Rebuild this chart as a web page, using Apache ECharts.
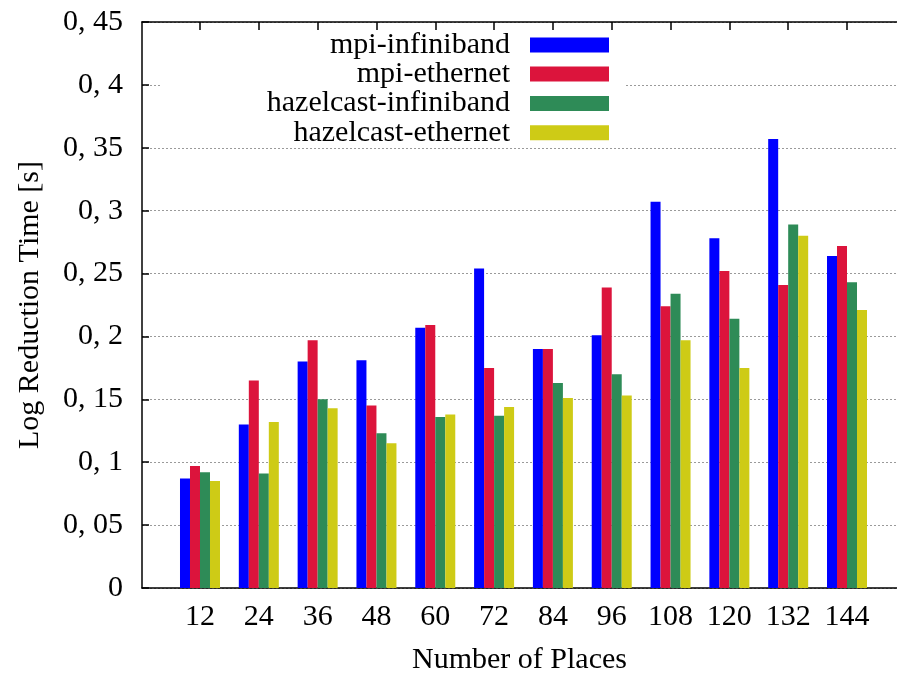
<!DOCTYPE html>
<html>
<head>
<meta charset="utf-8">
<script src="https://cdn.jsdelivr.net/npm/echarts@6/dist/echarts.min.js"></script>
<style>
  html, body { margin: 0; padding: 0; background: #ffffff; }
  #chart { width: 897px; height: 675px; }
</style>
</head>
<body>
<div id="chart"></div>
<script>
// Number of places (x categories)
const categories = ['12', '24', '36', '48', '60', '72', '84', '96', '108', '120', '132', '144'];

// Log reduction time [s] per configuration
const mpiInfiniband = [0.087, 0.130, 0.180, 0.181, 0.207, 0.254, 0.190, 0.201, 0.307, 0.278, 0.357, 0.264];
const mpiEthernet = [0.097, 0.165, 0.197, 0.145, 0.209, 0.175, 0.190, 0.239, 0.224, 0.252, 0.241, 0.272];
const hazelcastInfiniband = [0.092, 0.091, 0.150, 0.123, 0.136, 0.137, 0.163, 0.170, 0.234, 0.214, 0.289, 0.243];
const hazelcastEthernet = [0.085, 0.132, 0.143, 0.115, 0.138, 0.144, 0.151, 0.153, 0.197, 0.175, 0.280, 0.221];

const seriesNames = ['mpi-infiniband', 'mpi-ethernet', 'hazelcast-infiniband', 'hazelcast-ethernet'];
const seriesValues = [mpiInfiniband, mpiEthernet, hazelcastInfiniband, hazelcastEthernet];
const seriesColors = ['#0000ff', '#dc143c', '#2e8b57', '#cecb16'];

const FONT = '"Liberation Serif", "DejaVu Serif", serif';
const categoryIndex = categories.map((c, i) => i);

// "0.15" -> "0, 15"
function fmtY(v) {
  const s = String(parseFloat(v.toFixed(2)));
  return s.replace('.', ', ');
}

const chart = echarts.init(document.getElementById('chart'), null, { renderer: 'canvas' });

const legendRowCenters = [45.5, 74.5, 104, 133.3];

const option = {
  backgroundColor: '#ffffff',
  animation: false,
  grid: { left: 142, right: 0, top: 22, bottom: 87, containLabel: false, outerBoundsMode: 'none' },
  xAxis: [
    {
      type: 'value',
      position: 'bottom',
      min: -0.986,
      max: 11.85,
      name: 'Number of Places',
      nameLocation: 'middle',
      nameGap: 57,
      nameTextStyle: { fontFamily: FONT, fontSize: 30, color: '#000' },
      axisLine: { show: true, onZero: false, lineStyle: { color: '#000', width: 1.5 } },
      axisTick: { show: false },
      splitLine: { show: false },
      axisLabel: {
        customValues: categoryIndex,
        formatter: v => categories[Math.round(v)],
        fontFamily: FONT, fontSize: 30, color: '#000', margin: 14
      }
    },
    {
      type: 'value',
      position: 'top',
      min: -0.986,
      max: 11.85,
      axisLine: { show: true, onZero: false, lineStyle: { color: '#000', width: 1.5 } },
      axisTick: { show: true, inside: true, length: 8, customValues: categoryIndex, lineStyle: { color: '#000', width: 1.5 } },
      axisLabel: { show: false },
      splitLine: { show: false }
    }
  ],
  yAxis: {
    type: 'value',
    min: 0,
    max: 0.45,
    interval: 0.05,
    name: 'Log Reduction Time [s]',
    nameLocation: 'middle',
    nameGap: 97,
    nameTextStyle: { fontFamily: FONT, fontSize: 30, color: '#000' },
    axisLine: { show: true, onZero: false, lineStyle: { color: '#000', width: 1.5 } },
    axisTick: { show: true, inside: true, length: 7, lineStyle: { color: '#000', width: 1.5 } },
    axisLabel: {
      formatter: fmtY,
      fontFamily: FONT, fontSize: 30, color: '#000', margin: 19
    },
    splitLine: { show: true, lineStyle: { color: '#9a9a9a', width: 1, type: [2, 2] } }
  },
  legend: seriesNames.map((name, i) => ({
    data: [name],
    orient: 'vertical',
    align: 'right',
    right: 288,
    top: legendRowCenters[i] - 15.5,
    padding: 0,
    itemWidth: 79,
    itemHeight: 15,
    icon: 'rect',
    selectedMode: false,
    textStyle: { fontFamily: FONT, fontSize: 30, color: '#000', padding: [0, 15, 0, 0] }
  })),
  graphic: [
    {
      // opaque key box behind the legend entries
      type: 'rect',
      z: 1,
      shape: { x: 160, y: 30, width: 465, height: 116 },
      style: { fill: '#ffffff' }
    }
  ],
  series: seriesNames.map((name, s) => ({
    name: name,
    type: 'bar',
    xAxisIndex: 0,
    barWidth: 10,
    barGap: '0%',
    itemStyle: { color: seriesColors[s] },
    data: seriesValues[s].map((v, i) => [i, v])
  }))
};

chart.setOption(option);
</script>
</body>
</html>
